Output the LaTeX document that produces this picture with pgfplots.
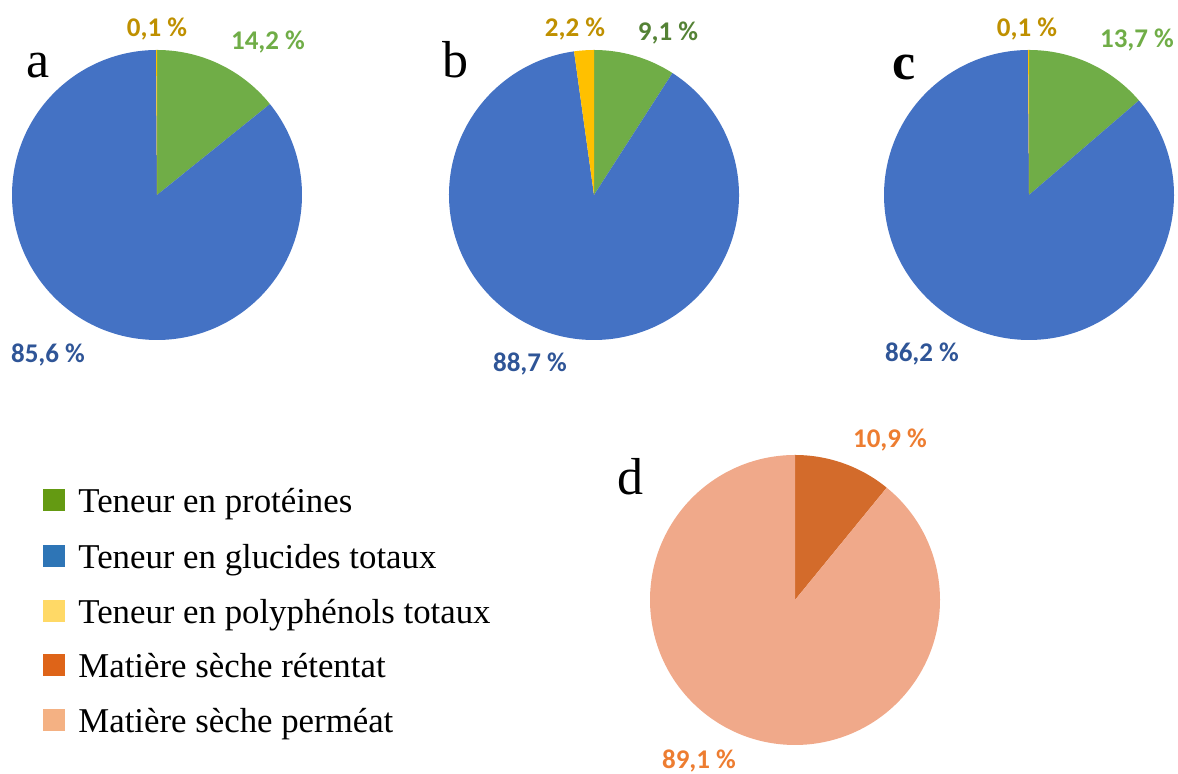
\documentclass[border=0pt]{standalone}
\usepackage{pgfplots}
\pgfplotsset{compat=1.18}
\usepackage{fontspec}
\setmainfont{Liberation Serif}
\newfontfamily\lab{Carlito}
\definecolor{pgreen}{HTML}{70AD47}
\definecolor{pblue}{HTML}{4472C4}
\definecolor{pyellow}{HTML}{FFC000}
\definecolor{pdark}{HTML}{D36B2B}
\definecolor{plight}{HTML}{F0A98A}
\definecolor{lgold}{HTML}{BF9000}
\definecolor{lgreen}{HTML}{70AD47}
\definecolor{lgreenb}{HTML}{548235}
\definecolor{lblue}{HTML}{2F5597}
\definecolor{lorange}{HTML}{ED7D31}
\definecolor{kgreen}{HTML}{649A12}
\definecolor{kblue}{HTML}{2E75B6}
\definecolor{kyellow}{HTML}{FFD966}
\definecolor{korange}{HTML}{DE6418}
\definecolor{ksalmon}{HTML}{F4B183}
% #1 centre name, #2 cumulative start, #3 cumulative end, #4 total, #5 colour
\newcommand\slice[5]{\pgfmathsetmacro\sa{90-(#2/#4)*360}\pgfmathsetmacro\ea{90-(#3/#4)*360}%
  \fill[#5] (#1) -- ++(\sa:72.5pt) arc[start angle=\sa, end angle=\ea, radius=72.5pt] -- cycle;}
\newcommand\pct[4]{\node[anchor=base, inner sep=0pt, text=#3, font=\lab\bfseries\fontsize{13.5}{16}\selectfont] at (axis cs:#1,#2) {#4};}
\newcommand\letter[3]{\node[anchor=base, inner sep=0pt, font=\fontsize{26}{30}\selectfont] at (axis cs:#1,#2) {#3};}
\newcommand\legtext[2]{\node[anchor=base west, inner sep=0pt, font=\fontsize{17.4}{20}\selectfont] at (axis cs:78,#1) {#2};}
\begin{document}
\begin{tikzpicture}
\begin{axis}[x=0.5pt, y=0.5pt, xmin=0, xmax=1178, ymin=0, ymax=774,
  hide axis, clip=false, scale only axis]
\coordinate (SW) at (axis cs:0,0);
\coordinate (NE) at (axis cs:1178,774);
\coordinate (A) at (axis cs:157,579);
\coordinate (B) at (axis cs:594,579);
\coordinate (C) at (axis cs:1029,579);
\coordinate (D) at (axis cs:795,174);
% labels
\pct{157}{737}{lgold}{0,1 \%}
\pct{268}{724}{lgreen}{14,2 \%}
\pct{48}{411}{lblue}{85,6 \%}
\pct{575}{737}{lgold}{2,2 \%}
\pct{668}{733}{lgreenb}{9,1 \%}
\pct{530}{402}{lblue}{88,7 \%}
\pct{1027}{737}{lgold}{0,1 \%}
\pct{1137}{726}{lgreen}{13,7 \%}
\pct{922}{412}{lblue}{86,2 \%}
\pct{890}{326}{lorange}{10,9 \%}
\pct{699}{5}{lorange}{89,1 \%}
\letter{38}{696}{a}
\letter{455}{696}{b}
\letter{904}{694}{\textbf{c}}
\letter{630}{279}{d}
% legend
\fill[kgreen] (axis cs:43,263) rectangle (axis cs:65,285);
\fill[kblue] (axis cs:43,207) rectangle (axis cs:65,229);
\fill[kyellow] (axis cs:43,152) rectangle (axis cs:65,174);
\fill[korange] (axis cs:43,98) rectangle (axis cs:65,120);
\fill[ksalmon] (axis cs:43,43) rectangle (axis cs:65,65);
\legtext{261}{Teneur en protéines}
\legtext{205}{Teneur en glucides totaux}
\legtext{150}{Teneur en polyphénols totaux}
\legtext{96}{Matière sèche rétentat}
\legtext{41}{Matière sèche perméat}
\end{axis}
% a: proteines 14.2, glucides 85.6, polyphenols 0.1
\slice{A}{0}{14.2}{99.9}{pgreen}
\slice{A}{14.2}{99.8}{99.9}{pblue}
\slice{A}{99.8}{99.9}{99.9}{pyellow}
% b: 9.1, 88.7, 2.2
\slice{B}{0}{9.1}{100}{pgreen}
\slice{B}{9.1}{97.8}{100}{pblue}
\slice{B}{97.8}{100}{100}{pyellow}
% c: 13.7, 86.2, 0.1
\slice{C}{0}{13.7}{100}{pgreen}
\slice{C}{13.7}{99.9}{100}{pblue}
\slice{C}{99.9}{100}{100}{pyellow}
% d: retentat 10.9, permeat 89.1
\slice{D}{0}{10.9}{100}{pdark}
\slice{D}{10.9}{100}{100}{plight}
\pgfresetboundingbox
\useasboundingbox (SW) rectangle (NE);
\end{tikzpicture}
\end{document}
